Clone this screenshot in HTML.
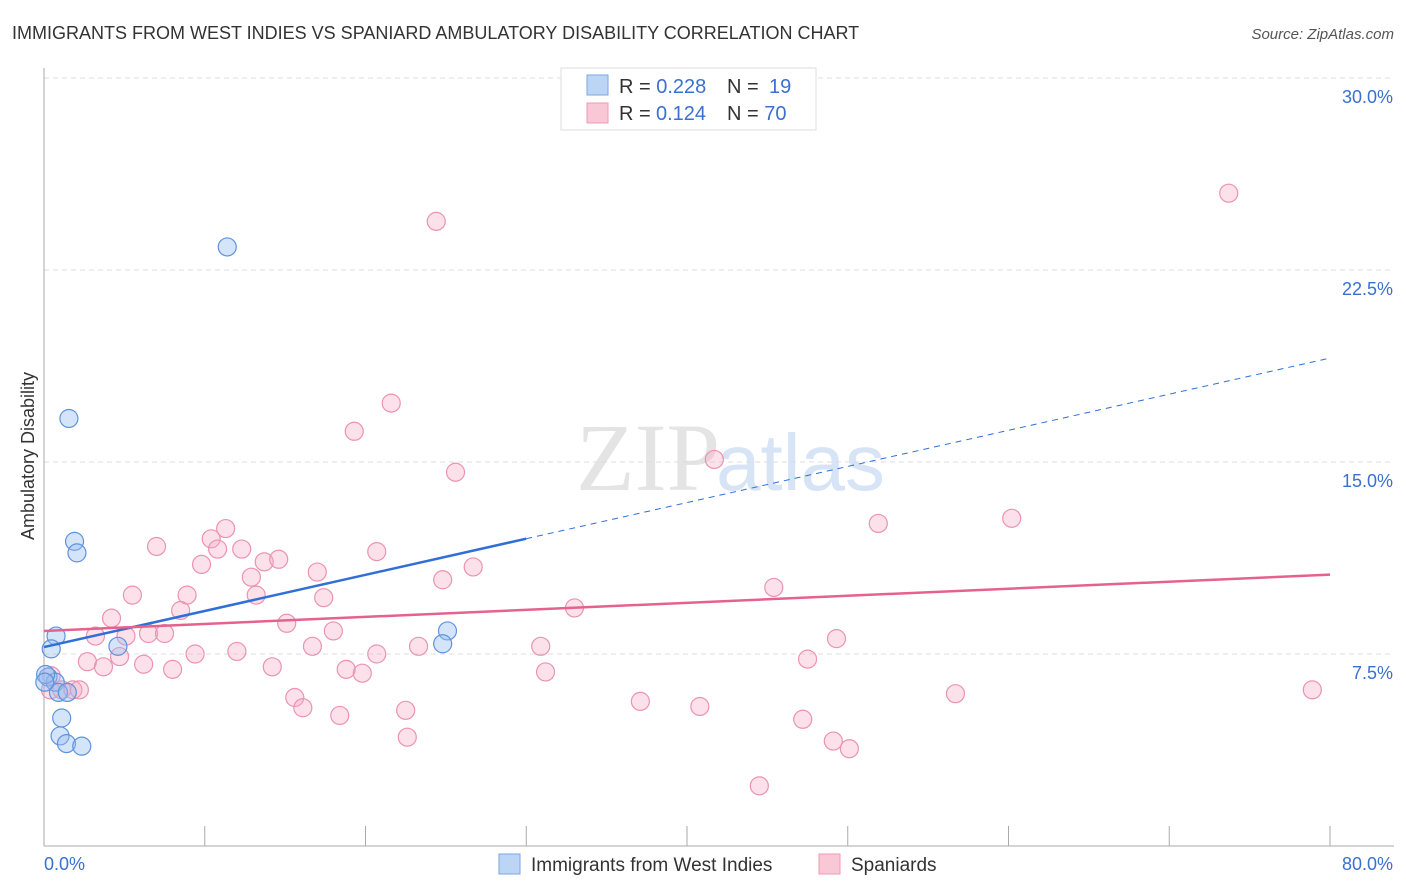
<!DOCTYPE html>
<html><head><meta charset="utf-8"><style>
body{margin:0;background:#fff;font-family:"Liberation Sans",sans-serif;}
svg{display:block}
</style></head><body>
<svg width="1406" height="892" id="c">
<text x="12" y="39" font-size="18" fill="#333">IMMIGRANTS FROM WEST INDIES VS SPANIARD AMBULATORY DISABILITY CORRELATION CHART</text>
<text x="1394" y="39" font-size="15" fill="#555" text-anchor="end" font-style="italic">Source: ZipAtlas.com</text>
<text x="720" y="490" font-size="96" fill="#e4e4e4" text-anchor="end" font-family="Liberation Serif">ZIP</text>
<text x="716" y="490" font-size="80" fill="#d6e4f5">atlas</text>
<text transform="translate(34,456) rotate(-90)" font-size="18" fill="#333" text-anchor="middle">Ambulatory Disability</text>
<g id="grid"></g><g id="pts"></g><g id="lines"></g>
<g>
<rect x="561" y="68" width="255" height="62" fill="#fff" stroke="#ddd"/>
<rect x="587" y="75" width="21" height="20" fill="#bcd5f5" stroke="#7aa6e0"/>
<rect x="587" y="103" width="21" height="20" fill="#f9c8d6" stroke="#ee9ab3"/>
<text x="619" y="93" font-size="20" fill="#333">R = <tspan fill="#3a70d0">0.228</tspan><tspan x="727">N = </tspan><tspan fill="#3a70d0" x="769">19</tspan></text>
<text x="619" y="120" font-size="20" fill="#333">R = <tspan fill="#3a70d0" x="656">0.124</tspan><tspan x="727">N = </tspan><tspan fill="#3a70d0">70</tspan></text>
</g>
<g>
<rect x="499" y="854" width="21" height="20" fill="#bcd5f5" stroke="#7aa6e0"/>
<text x="531" y="871" font-size="19" fill="#333">Immigrants from West Indies</text>
<rect x="819" y="854" width="21" height="20" fill="#f9c8d6" stroke="#ee9ab3"/>
<text x="851" y="871" font-size="19" fill="#333">Spaniards</text>
</g>
</svg>
<script>
const yTicks=[7.5,15,22.5,30];
const yTickLabels=["7.5%","15.0%","22.5%","30.0%"];
const xTicks=[0,10,20,30,40,50,60,70,80];
const blueX=[11.4,1.55,1.9,2.05,0.75,0.45,4.6,25.1,24.8,0.25,0.7,0.9,1.45,1.1,1.0,1.4,2.35,0.1,0.05];
const blueY=[23.4,16.7,11.9,11.45,8.2,7.7,7.8,8.4,7.9,6.6,6.4,6.0,6.0,5.0,4.3,4.0,3.9,6.7,6.4];
const pinkX=[73.7,24.4,21.6,19.3,25.6,41.7,51.9,60.2,11.3,7.0,10.4,10.8,12.3,13.7,14.6,20.7,9.8,12.9,17.0,24.8,26.7,45.4,5.5,8.9,13.2,17.4,8.5,4.2,33.0,15.1,3.2,5.1,6.5,7.5,18.0,49.3,9.4,12.0,16.7,23.3,30.9,47.5,4.7,2.7,6.2,3.7,8.0,14.2,18.8,19.8,20.7,31.2,15.6,16.1,18.4,22.5,22.6,37.1,40.8,47.2,49.1,50.1,44.5,56.7,78.9,0.45,0.4,1.1,1.8,2.2];
const pinkY=[25.5,24.4,17.3,16.2,14.6,15.1,12.6,12.8,12.4,11.7,12.0,11.6,11.6,11.1,11.2,11.5,11.0,10.5,10.7,10.4,10.9,10.1,9.8,9.8,9.8,9.7,9.2,8.9,9.3,8.7,8.2,8.2,8.3,8.3,8.4,8.1,7.5,7.6,7.8,7.8,7.8,7.3,7.4,7.2,7.1,7.0,6.9,7.0,6.9,6.75,7.5,6.8,5.8,5.4,5.1,5.3,4.25,5.65,5.45,4.95,4.1,3.8,2.35,5.95,6.1,6.65,6.1,6.1,6.1,6.1];
const blueTrend=[7.77,19.06], blueSolidEnd=30;
const pinkTrend=[8.4,10.6];
const X=v=>44+v*16.075, Y=v=>846-v*25.6;
const NS="http://www.w3.org/2000/svg";
function mk(t,a,p){const e=document.createElementNS(NS,t);for(const k in a)e.setAttribute(k,a[k]);p.appendChild(e);return e;}
const g=document.getElementById('grid'),pts=document.getElementById('pts'),ln=document.getElementById('lines');
yTicks.forEach((t,i)=>{
 const l=mk('line',{x1:44,x2:1394,y1:Y(t),y2:Y(t),stroke:'#ddd','stroke-dasharray':'5,4'},g);
 
 
 const tx=mk('text',{x:1393,y:Y(t)+25,'font-size':18,fill:'#3a70d0','text-anchor':'end'},g);tx.textContent=yTickLabels[i];
 
 
});
mk('line',{x1:44,x2:44,y1:68,y2:846,stroke:'#aaa'},g);
mk('line',{x1:44,x2:1394,y1:846,y2:846,stroke:'#aaa'},g);
xTicks.forEach(t=>{const l=mk('line',{x1:X(t),x2:X(t),y1:826,y2:846,stroke:'#aaa'},g);
 
 });
const t0=mk('text',{x:44,y:870,'font-size':18,fill:'#3a70d0'},g);t0.textContent='0.0%';


const t1=mk('text',{x:1393,y:870,'font-size':18,fill:'#3a70d0','text-anchor':'end'},g);t1.textContent='80.0%';


pinkX.forEach((x,i)=>{const c=mk('circle',{cx:X(x),cy:Y(pinkY[i]),r:9,fill:'rgba(246,170,195,0.35)',stroke:'#eb93b0','stroke-width':1.2},pts);
 
 });
blueX.forEach((x,i)=>{const c=mk('circle',{cx:X(x),cy:Y(blueY[i]),r:9,fill:'rgba(150,190,240,0.4)',stroke:'#5f92dc','stroke-width':1.2},pts);
 
 });
const bAt=v=>blueTrend[0]+(blueTrend[1]-blueTrend[0])*v/80;
const b1=mk('line',{x1:X(0),y1:Y(bAt(0)),x2:X(blueSolidEnd),y2:Y(bAt(blueSolidEnd)),stroke:'#2f6fd6','stroke-width':2.5},ln);


const b2=mk('line',{x1:X(blueSolidEnd),y1:Y(bAt(blueSolidEnd)),x2:X(80),y2:Y(bAt(80)),stroke:'#2f6fd6','stroke-width':1,'stroke-dasharray':'6,5'},ln);


const p1=mk('line',{x1:X(0),y1:Y(pinkTrend[0]),x2:X(80),y2:Y(pinkTrend[1]),stroke:'#e5628f','stroke-width':2.5},ln);


</script>
</body></html>
